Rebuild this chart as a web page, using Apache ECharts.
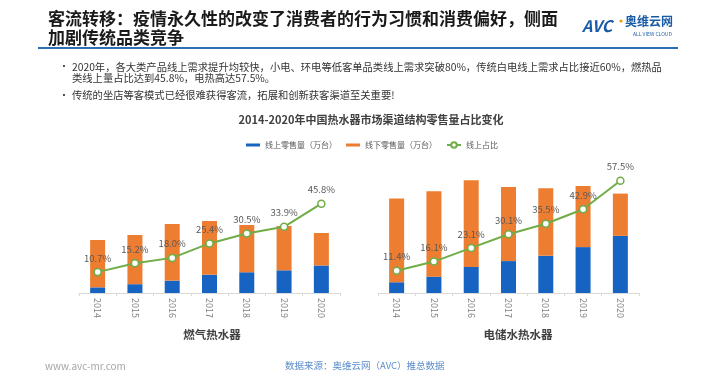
<!DOCTYPE html>
<html>
<head>
<meta charset="utf-8">
<script src="https://cdn.jsdelivr.net/npm/echarts@6/dist/echarts.min.js"></script>
<style>
html,body{margin:0;padding:0;background:#fff;}
#chart{width:727px;height:378px;}
</style>
</head>
<body>
<div id="chart"></div>
<script>
const years = ['2014', '2015', '2016', '2017', '2018', '2019', '2020'];
// 燃气热水器 (万台)
const gasOnline = [113, 176, 248, 366, 415, 454, 550];
const gasOffline = [947, 984, 1132, 1074, 945, 886, 650];
const gasShare = [10.7, 15.2, 18.0, 25.4, 30.5, 33.9, 45.8];
// 电储水热水器
const elecOnline = [215, 327, 521, 638, 743, 918, 1143];
const elecOffline = [1673, 1707, 1733, 1482, 1351, 1222, 845];
const elecShare = [11.4, 16.1, 23.1, 30.1, 35.5, 42.9, 57.5];

const seriesNames = ['线上零售量（万台）', '线下零售量（万台）', '线上占比'];
const subTitles = ['燃气热水器', '电储水热水器'];

const FONT = '"Noto Sans CJK SC", "Noto Sans", sans-serif';
const BLUE = '#1763c2', ORANGE = '#ed7d31', GREEN = '#70ad47';

const chart = echarts.init(document.getElementById('chart'), null, {renderer: 'canvas'});

function xAxisFor(gi) {
  return {
    type: 'category', gridIndex: gi, data: years, boundaryGap: true,
    axisLine: {lineStyle: {color: '#d9d9d9', width: 1}},
    axisTick: {show: true, length: 3, lineStyle: {color: '#d9d9d9'}},
    axisLabel: {rotate: -90, margin: 5, fontSize: 9, color: '#7f7f7f', fontFamily: FONT}
  };
}
function yAxisFor(gi, max) {
  return {type: 'value', gridIndex: gi, min: 0, max: max, show: false, splitLine: {show: false}};
}
function seriesFor(gi, online, offline, share) {
  return [
    {name: seriesNames[0], type: 'bar', stack: 's' + gi, xAxisIndex: gi, yAxisIndex: gi * 2,
      barWidth: 15, itemStyle: {color: BLUE}, data: online},
    {name: seriesNames[1], type: 'bar', stack: 's' + gi, xAxisIndex: gi, yAxisIndex: gi * 2,
      barWidth: 15, itemStyle: {color: ORANGE}, data: offline},
    {name: seriesNames[2], type: 'line', xAxisIndex: gi, yAxisIndex: gi * 2 + 1, z: 5,
      symbol: 'circle', symbolSize: 7, lineStyle: {color: GREEN, width: 2},
      itemStyle: {color: '#fff', borderColor: GREEN, borderWidth: 1.5},
      label: {show: true, position: 'top', distance: 5, fontSize: 9.5, color: '#595959', fontFamily: FONT,
        formatter: p => p.value.toFixed(1) + '%'},
      data: share}
  ];
}

const option = {
  backgroundColor: '#fff',
  animation: false,
  textStyle: {fontFamily: FONT},
  title: [
    {text: '客流转移：疫情永久性的改变了消费者的行为习惯和消费偏好，侧面\n加剧传统品类竞争',
      left: 43, top: 4,
      textStyle: {fontSize: 17, fontWeight: 'bold', color: '#1a1a1a', lineHeight: 19, fontFamily: FONT}},
    {text: '2014-2020年中国热水器市场渠道结构零售量占比变化', left: 366, top: 109, textAlign: 'center',
      textStyle: {fontSize: 11, fontWeight: 'bold', color: '#404040', fontFamily: FONT}},
    {text: subTitles[0], left: 207, top: 324, textAlign: 'center',
      textStyle: {fontSize: 11.5, fontWeight: 'bold', color: '#404040', fontFamily: FONT}},
    {text: subTitles[1], left: 513, top: 324, textAlign: 'center',
      textStyle: {fontSize: 11.5, fontWeight: 'bold', color: '#404040', fontFamily: FONT}},
    {text: '数据来源：奥维云网（AVC）推总数据', left: 280, top: 356,
      textStyle: {fontSize: 9.5, fontWeight: 'normal', color: '#5b8ec9', fontFamily: FONT}},
    {text: 'www.avc-mr.com', left: 40, top: 356,
      textStyle: {fontSize: 10, fontWeight: 'normal', color: '#a6a6a6', fontFamily: FONT}}
  ],
  legend: {
    left: 241, top: 136, itemWidth: 14, itemHeight: 7, itemGap: 9,
    textStyle: {fontSize: 8, color: '#595959', fontFamily: FONT},
    data: [
      {name: seriesNames[0], icon: 'path://M0,0L14,0L14,3L0,3Z'},
      {name: seriesNames[1], icon: 'path://M0,0L14,0L14,3L0,3Z'},
      {name: seriesNames[2]}
    ]
  },
  grid: [
    {left: 79, width: 261, top: 173, height: 120},
    {left: 378, width: 261, top: 173, height: 120}
  ],
  xAxis: [xAxisFor(0), xAxisFor(1)],
  yAxis: [yAxisFor(0, 2400), yAxisFor(0, 61.5), yAxisFor(1, 2400), yAxisFor(1, 61.5)],
  series: [].concat(seriesFor(0, gasOnline, gasOffline, gasShare), seriesFor(1, elecOnline, elecOffline, elecShare)),
  graphic: [
    {type: 'rect', shape: {x: 38, y: 47, width: 640, height: 2}, style: {fill: '#2f6eb5'}, silent: true},
    {type: 'text', left: 582, top: 18, style: {text: 'AVC', font: 'italic bold 16px ' + FONT, fill: '#1a5ba6'}},
    {type: 'circle', shape: {cx: 621, cy: 21, r: 1.6}, style: {fill: '#f39c12'}},
    {type: 'text', left: 625, top: 15, style: {text: '奥维云网', font: 'bold 12px ' + FONT, fill: '#1a5ba6'}},
    {type: 'text', left: 633, top: 32, style: {text: 'ALL VIEW CLOUD', font: '5px ' + FONT, fill: '#1a5ba6'}},
    {type: 'text', left: 59, top: 61, style: {text: '•', font: '10px ' + FONT, fill: '#333'}},
    {type: 'text', left: 72, top: 61, style: {
      text: '2020年，各大类产品线上需求提升均较快，小电、环电等低客单品类线上需求突破80%，传统白电线上需求占比接近60%，燃热品\n类线上量占比达到45.8%，电热高达57.5%。',
      font: '10.3px ' + FONT, fill: '#333', lineHeight: 11.5}},
    {type: 'text', left: 59, top: 90, style: {text: '•', font: '10px ' + FONT, fill: '#333'}},
    {type: 'text', left: 72, top: 90, style: {
      text: '传统的坐店等客模式已经很难获得客流，拓展和创新获客渠道至关重要!',
      font: '10.3px ' + FONT, fill: '#333'}}
  ]
};
chart.setOption(option);
</script>
</body>
</html>
